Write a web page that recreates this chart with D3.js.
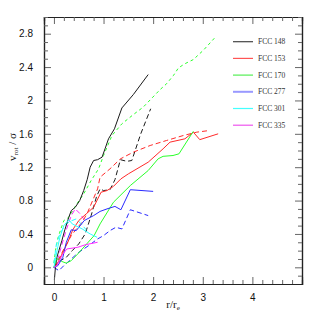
<!DOCTYPE html>
<html>
<head>
<meta charset="utf-8">
<script src="https://cdn.jsdelivr.net/npm/d3@7"></script>
<style>
  body { margin: 0; background: #fff; }
</style>
</head>
<body>
<div id="chart"></div>
<script>
const rootWidth = 319;
const rootHeight = 319;
const margin = { top: 17, right: 17, bottom: 35, left: 44 };
const chartWidth = rootWidth - margin.left - margin.right;
const chartHeight = rootHeight - margin.top - margin.bottom;

// galaxies and their colours
const galaxies = ["FCC 148", "FCC 153", "FCC 170", "FCC 277", "FCC 301", "FCC 335"];
const lineColors = ["#1a1a1a", "#ff2a2a", "#2aff2a", "#2a2aff", "#2affff", "#ff2aff"];
const legendColors = ["#444444", "#ff5555", "#55ee55", "#9999ff", "#44ffff", "#ee55ee"];

// solid curves: [r/re, v/sigma]
const solid148 = [[0.01,-0.15],[0.03,0.0],[0.06,0.12],[0.1,0.2],[0.16,0.32],[0.22,0.45],[0.3,0.6],[0.35,0.68],[0.43,0.72],[0.52,0.8],[0.6,0.92],[0.67,1.05],[0.73,1.2],[0.8,1.28],[0.88,1.29],[0.97,1.32],[1.03,1.42],[1.1,1.54],[1.22,1.66],[1.37,1.91],[1.6,2.07],[1.9,2.31]];
const solid153 = [[0,0],[0.05,0.03],[0.1,0.08],[0.18,0.18],[0.28,0.3],[0.38,0.45],[0.5,0.56],[0.65,0.64],[0.8,0.72],[0.95,0.9],[1.07,0.92],[1.2,0.97],[1.35,1.06],[1.5,1.12],[1.9,1.26],[2.2,1.42],[2.34,1.5],[2.64,1.54],[2.81,1.62],[2.94,1.53],[3.31,1.6]];
const solid170 = [[0,0],[0.05,0.1],[0.1,0.1],[0.16,0.07],[0.25,0.05],[0.35,0.08],[0.48,0.16],[0.81,0.38],[0.93,0.52],[1.2,0.78],[1.54,0.98],[1.9,1.16],[2.1,1.3],[2.2,1.33],[2.4,1.34],[2.52,1.36],[2.81,1.63]];
const solid277 = [[0,0],[0.08,0.02],[0.18,0.12],[0.25,0.3],[0.35,0.45],[0.45,0.44],[0.61,0.56],[0.8,0.62],[0.93,0.67],[1.07,0.7],[1.23,0.73],[1.35,0.69],[1.54,0.93],[2.0,0.91]];
const solid301 = [[0,0],[0.03,0.1],[0.08,0.25],[0.12,0.36],[0.2,0.5],[0.3,0.57],[0.37,0.52],[0.5,0.48],[0.57,0.46],[0.73,0.4],[0.87,0.36]];
const solid335 = [[0,0],[0.06,0.02],[0.16,0.14],[0.26,0.22],[0.48,0.24],[0.63,0.27],[0.88,0.3]];

// dashed curves
const dashed148 = [[0.0,0.0],[0.05,0.03],[0.13,0.08],[0.25,0.12],[0.37,0.2],[0.5,0.28],[0.63,0.4],[0.75,0.62],[0.86,0.85],[0.93,0.94],[1.0,0.92],[1.13,0.93],[1.23,1.05],[1.34,1.29],[1.47,1.27],[1.57,1.28],[1.75,1.6],[1.95,1.9]];
const dashed153 = [[0,0],[0.1,0.1],[0.2,0.22],[0.35,0.38],[0.48,0.48],[0.58,0.55],[0.68,0.66],[0.78,0.8],[0.88,0.94],[0.93,1.08],[1.13,1.18],[1.34,1.3],[1.6,1.38],[1.94,1.46],[2.27,1.52],[2.61,1.58],[2.88,1.62],[3.14,1.64]];
const dashed170 = [[0,0.05],[0.03,0.2],[0.08,0.35],[0.14,0.46],[0.2,0.56],[0.3,0.6],[0.45,0.75],[0.6,0.88],[0.75,1.04],[0.9,1.18],[1.0,1.34],[1.17,1.58],[1.37,1.72],[1.6,1.83],[1.8,1.92],[2.14,2.13],[2.27,2.2],[2.41,2.3],[2.51,2.39],[2.64,2.44],[2.81,2.49],[3.01,2.6],[3.24,2.75]];
const dashed277 = [[0,0],[0.1,-0.04],[0.2,0.02],[0.35,0.1],[0.5,0.18],[0.7,0.26],[0.88,0.34],[1.0,0.38],[1.13,0.44],[1.25,0.48],[1.37,0.46],[1.54,0.69],[1.9,0.62]];
const dashed301 = [[0,0.05],[0.05,0.28],[0.12,0.4],[0.22,0.5],[0.32,0.55],[0.45,0.58],[0.55,0.52],[0.65,0.45]];
const dashed335 = [[0,0],[0.08,0.1],[0.15,0.25],[0.25,0.45],[0.35,0.62],[0.43,0.7],[0.53,0.64],[0.6,0.58]];

const solidSeries = [solid148, solid153, solid170, solid277, solid301, solid335];
const dashedSeries = [dashed148, dashed153, dashed170, dashed277, dashed301, dashed335];

const xMajor = [0, 1, 2, 3, 4];
const yMajor = [0, 0.4, 0.8, 1.2, 1.6, 2, 2.4, 2.8];

const root = d3
  .select("#chart")
  .append("svg")
  .attr("width", rootWidth)
  .attr("height", rootHeight);
const chart = root
  .append("g")
  .attr("transform", `translate(${margin.left}, ${margin.top})`);

const xScale = d3.scaleLinear().domain([-0.2, 5]).range([0, chartWidth]);
const yScale = d3.scaleLinear().domain([-0.2, 3]).range([chartHeight, 0]);

const xMinor = d3.range(-0.2, 5.001, 0.2).filter((v) => Math.abs(v - Math.round(v)) > 0.01);
const yMinor = d3.range(-0.1, 3.001, 0.1).filter((v) => Math.abs(v / 0.4 - Math.round(v / 0.4)) > 0.01);

const line = d3
  .line()
  .x((d) => xScale(d[0]))
  .y((d) => yScale(d[1]));

chart
  .append("clipPath")
  .attr("id", "clip")
  .append("rect")
  .attr("width", chartWidth)
  .attr("height", chartHeight);

const curves = chart.append("g").attr("clip-path", "url(#clip)");

curves
  .selectAll(".dashed")
  .data(dashedSeries)
  .join("path")
  .attr("class", "dashed")
  .attr("d", line)
  .attr("fill", "none")
  .attr("stroke", (d, i) => lineColors[i])
  .attr("stroke-width", 1)
  .attr("stroke-dasharray", (d, i) => (i === 2 ? "3,3" : "5,3"));

curves
  .selectAll(".solid")
  .data(solidSeries)
  .join("path")
  .attr("class", "solid")
  .attr("d", line)
  .attr("fill", "none")
  .attr("stroke", (d, i) => lineColors[i])
  .attr("stroke-width", 1);

// axes with inward ticks on all four sides
function styleAxis(g) {
  g.select(".domain").attr("stroke", "#222").attr("stroke-width", 1.2);
  g.selectAll(".tick line").attr("stroke", "#666").attr("stroke-width", 1);
  g.selectAll(".tick text")
    .attr("font-family", "Liberation Sans, Arial, sans-serif")
    .attr("font-size", 10)
    .attr("fill", "#111");
}

chart
  .append("g")
  .attr("transform", `translate(0, ${chartHeight})`)
  .call(d3.axisBottom(xScale).tickValues(xMajor).tickSize(-7).tickPadding(10).tickFormat(d3.format("d")))
  .call(styleAxis);
chart
  .append("g")
  .attr("transform", `translate(0, ${chartHeight})`)
  .call(d3.axisBottom(xScale).tickValues(xMinor).tickSize(-4).tickFormat(""))
  .call(styleAxis);
chart
  .append("g")
  .call(d3.axisTop(xScale).tickValues(xMajor).tickSize(-7).tickFormat(""))
  .call(styleAxis);
chart
  .append("g")
  .call(d3.axisTop(xScale).tickValues(xMinor).tickSize(-4).tickFormat(""))
  .call(styleAxis);

chart
  .append("g")
  .call(d3.axisLeft(yScale).tickValues(yMajor).tickSize(-7).tickPadding(11).tickFormat(d3.format("~g")))
  .call(styleAxis);
chart
  .append("g")
  .call(d3.axisLeft(yScale).tickValues(yMinor).tickSize(-4).tickFormat(""))
  .call(styleAxis);
chart
  .append("g")
  .attr("transform", `translate(${chartWidth}, 0)`)
  .call(d3.axisRight(yScale).tickValues(yMajor).tickSize(-7).tickFormat(""))
  .call(styleAxis);
chart
  .append("g")
  .attr("transform", `translate(${chartWidth}, 0)`)
  .call(d3.axisRight(yScale).tickValues(yMinor).tickSize(-4).tickFormat(""))
  .call(styleAxis);

// legend
const legend = chart
  .append("g")
  .selectAll("g")
  .data(galaxies)
  .join("g")
  .attr("transform", (d, i) => `translate(${233 - margin.left}, ${41.7 - margin.top + i * 16.7})`);
legend
  .append("line")
  .attr("x1", 0)
  .attr("x2", 20)
  .attr("stroke", (d, i) => legendColors[i])
  .attr("stroke-width", (d, i) => (i === 3 ? 2 : 1.2));
legend
  .append("text")
  .attr("x", 25)
  .attr("y", 2.5)
  .attr("font-family", "Liberation Serif, Times New Roman, serif")
  .attr("font-size", 7.5)
  .attr("fill", "#333")
  .text((d) => d);

// axis titles
root
  .append("text")
  .attr("x", 173)
  .attr("y", 308)
  .attr("text-anchor", "middle")
  .attr("font-family", "Liberation Serif, Times New Roman, serif")
  .attr("font-size", 11)
  .attr("fill", "#111")
  .html('r/r<tspan font-size="7" dy="2">e</tspan>');

root
  .append("text")
  .attr("transform", `translate(16, 147) rotate(-90)`)
  .attr("text-anchor", "middle")
  .attr("font-family", "Liberation Serif, Times New Roman, serif")
  .attr("font-size", 11)
  .attr("fill", "#111")
  .html('v<tspan font-size="7" dy="2">rot</tspan><tspan dy="-2"> / σ</tspan>');
</script>
</body>
</html>
